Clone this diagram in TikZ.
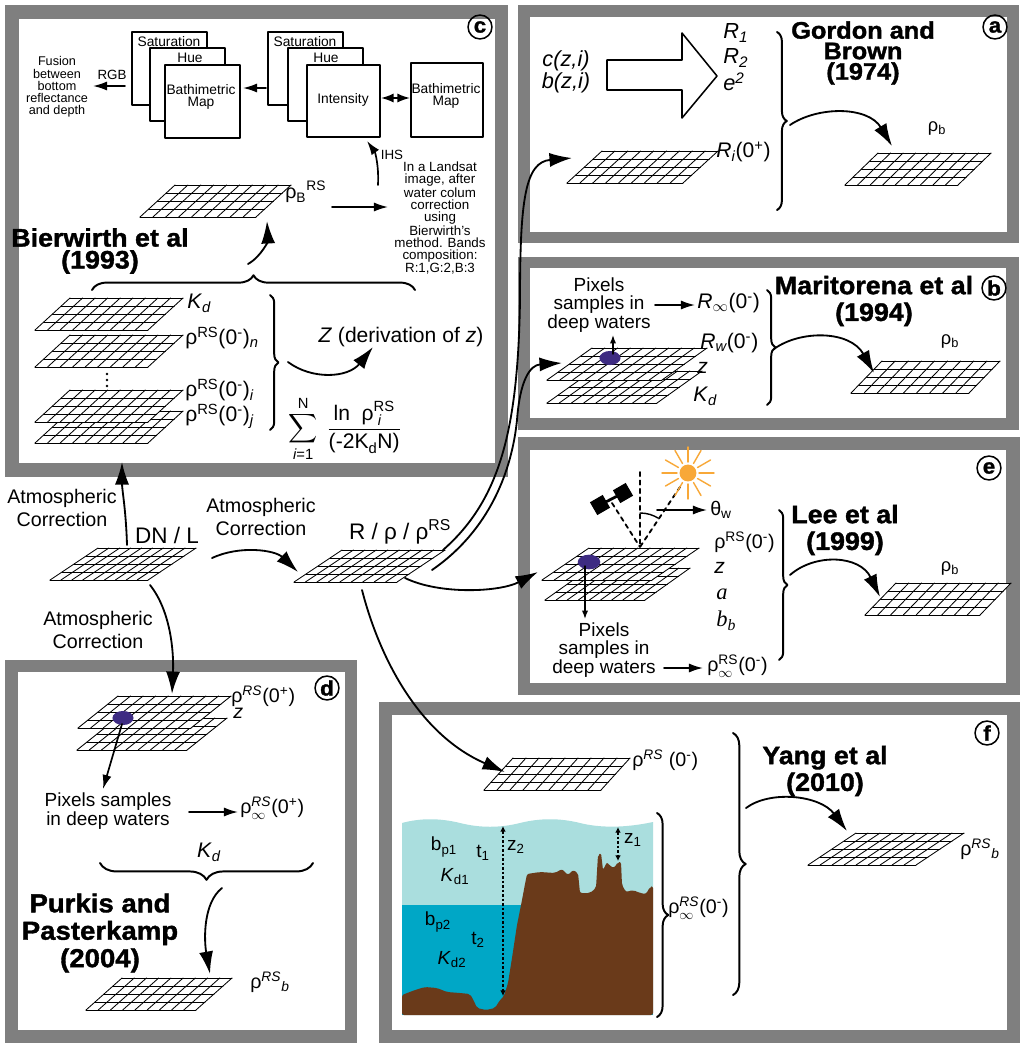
\documentclass[tikz,border=0pt]{standalone}
\usepackage{amsmath}
\usepackage{fontspec}
\setmainfont{Liberation Sans}
\newfontfamily\tmsfont{Liberation Serif}
\newfontfamily\heavyfont{Liberation Sans}[BoldFeatures={FakeBold=1.4,FakeStretch=1.06}]
\usetikzlibrary{arrows.meta,decorations.pathreplacing}
\definecolor{framegray}{HTML}{7F7F7F}
\definecolor{shallow}{HTML}{AADEDE}
\definecolor{deep}{HTML}{00A7C6}
\definecolor{seabed}{HTML}{6A3A1A}
\definecolor{pixpurple}{HTML}{3D2B82}
\definecolor{sunorange}{HTML}{F8A838}
\newcommand{\supx}[1]{\textsuperscript{#1}}
\newcommand{\subx}[1]{\textsubscript{#1}}
\newcommand{\supinf}[1]{$^{\text{#1}}_{\infty}$}
\tikzset{
  pics/pixgrid/.style 2 args={code={
    \fill[white] (0,0) -- (#1,0) -- ({#1+#2},-32) -- (#2,-32) -- cycle;
    \foreach \ii in {0,...,4} \draw[line width=0.6pt] ({#2*\ii/4},{-8*\ii}) -- ++(#1,0);
    \foreach \jj in {0,...,9} \draw[line width=0.6pt] ({#1*\jj/9},0) -- ++(#2,-32);
  }},
  lab/.style={font=\fontsize{15}{16}\selectfont, inner sep=0pt, anchor=west},
  txt/.style={font=\fontsize{13.5}{12.5}\selectfont, inner sep=0pt, align=center},
  atm/.style={font=\fontsize{14}{16.5}\selectfont, inner sep=0pt, align=center},
  boxtxt/.style={font=\fontsize{9.8}{8}\selectfont, inner sep=0pt, align=center},
  ttl/.style={font=\fontsize{18}{19}\selectfont\heavyfont\bfseries, inner sep=0pt, align=center},
  circ/.style={circle, draw, line width=1.1pt, minimum size=17pt, inner sep=0pt, font=\fontsize{15}{15}\selectfont\heavyfont\bfseries},
  mapbox/.style={draw, fill=white, line width=1.1pt},
  curv/.style={line width=1.3pt, -{Latex[length=16pt,width=10pt]}},
  arr/.style={line width=1.2pt, -{Latex[length=10pt,width=6.5pt]}},
  tiny/.style={line width=1pt, -{Latex[length=6pt,width=4.5pt]}},
  brc/.style={decorate, decoration={brace, amplitude=#1}, line width=1.4pt},
  dotarr/.style={line width=1.8pt, line cap=butt, dash pattern=on 1.8pt off 1.4pt, {Latex[length=4pt,width=4pt]}-{Latex[length=4pt,width=4pt]}},
}
\begin{document}
\begin{tikzpicture}[x=0.025cm, y=-0.025cm, line join=round, line cap=round]
\useasboundingbox (0,0) rectangle (1024,1048);
% frames of the six panels
\fill[framegray] (5,5) rectangle (508,477);      \fill[white] (19,19) rectangle (495,463);
\fill[framegray] (518,5) rectangle (1019,243);   \fill[white] (530,17) rectangle (1007,232);
\fill[framegray] (518,257) rectangle (1019,430); \fill[white] (530,268) rectangle (1006,418);
\fill[framegray] (518,437) rectangle (1020,695); \fill[white] (530,450) rectangle (1006,683);
\fill[framegray] (5,660) rectangle (357,1043);   \fill[white] (18,672) rectangle (345,1030);
\fill[framegray] (379,702) rectangle (1020,1043); \fill[white] (392,715) rectangle (1007,1030);

% panel c
\draw[mapbox] (132,32) rectangle (207,105);
\draw[mapbox] (150,48) rectangle (225,121);
\draw[mapbox] (165,65) rectangle (240,138);
\draw[mapbox] (268,32) rectangle (343,105);
\draw[mapbox] (288,48) rectangle (363,121);
\draw[mapbox] (307,65) rectangle (380,137);
\draw[mapbox] (411,63) rectangle (483,137);
\node[boxtxt] (satA) at (169,42) {Saturation};
\node[boxtxt] (hueA) at (190,58) {Hue};
\node[boxtxt] (batA) at (201,97) {Bathimetric\\Map};
\node[boxtxt] (satB) at (305,42) {Saturation};
\node[boxtxt] (hueB) at (326,58) {Hue};
\node[boxtxt] (intB) at (343,100) {Intensity};
\node[boxtxt] (batC) at (446,96) {Bathimetric\\Map};
\node[font=\fontsize{9}{8.7}\selectfont, inner sep=0pt, align=center] (fusion) at (57,87) {Fusion\\between\\bottom\\reflectance\\and depth};
\node[font=\fontsize{9.5}{9}\selectfont, inner sep=0pt] (rgb) at (112,75) {RGB};
\node[font=\fontsize{9.5}{9}\selectfont, inner sep=0pt] (ihs) at (392,155) {IHS};
\node[font=\fontsize{9.5}{8.6}\selectfont, inner sep=0pt, align=center] (landsat) at (440,218) {In a Landsat\\image, after\\water colum\\correction\\using\\Bierwirth's\\method. Bands\\composition:\\R:1,G:2,B:3};
\coordinate (rgbS) at (125,86);  \coordinate (rgbE) at (93,86);
\coordinate (midS) at (266,88);  \coordinate (midE) at (243,88);
\coordinate (dblL) at (381,98);  \coordinate (dblR) at (410,98);
\coordinate (ihsS) at (378,185); \coordinate (ihsE) at (367,141);
\coordinate (rbS) at (332,207);  \coordinate (rbE) at (388,207);
\draw[arr] (rgbS) -- (rgbE);
\draw[arr] (midS) -- (midE);
\draw[line width=1.2pt, {Latex[length=9pt,width=6.5pt]}-{Latex[length=9pt,width=6.5pt]}] (dblL) -- (dblR);
\draw[arr] (ihsS) .. controls (379,165) and (375,152) .. (ihsE);
\draw[arr] (rbS) -- (rbE);
\pic (gB) at (140,217) {pixgrid={116}{35}};
\node[lab, font=\fontsize{14}{16}\selectfont] (rhoB) at (285,192) {$\text{ρ}_{\text{B}}{}^{\text{RS}}$};
\node[ttl, font=\fontsize{18}{15.6}\selectfont\heavyfont\bfseries] (bier) at (100,251) {Bierwirth et al\\(1993)};
\draw[brc=10.5pt] (92,290) -- (415,290);
\coordinate (bcS) at (248,264); \coordinate (bcE) at (267,221);
\draw[curv] (bcS) .. controls (262,256) and (268,240) .. (bcE);
\pic (gj) at (35,443) {pixgrid={113}{35}};
\pic (gi) at (35,422) {pixgrid={113}{35}};
\pic (gn) at (35,367) {pixgrid={113}{35}};
\pic (gk) at (35,330) {pixgrid={113}{35}};
\foreach \yy in {374,380,386} \fill (107,\yy) circle (0.9pt);
\node[lab] (kdC) at (187,303) {\textit{K}\subx{\itshape d}};
\node[lab] (rhoN) at (185,338) {ρ\supx{RS}(0\supx{-})\subx{\itshape n}};
\node[lab] (rhoI) at (185,390) {ρ\supx{RS}(0\supx{-})\subx{\itshape i}};
\node[lab] (rhoJ) at (185,416) {ρ\supx{RS}(0\supx{-})\subx{\itshape j}};
\draw[brc=6pt] (270,295) -- (270,430);
\node[lab, anchor=center] (zder) at (401,337) {\textit{Z} (derivation of \textit{z})};
\coordinate (zS) at (288,362); \coordinate (zE) at (373,347);
\draw[curv] (zS) .. controls (312,380) and (348,378) .. (zE);
\node[lab, anchor=center] (sumC) at (345,429) {$\displaystyle\sum_{\text{\itshape i\upshape =1}}^{\text{N}}\ \frac{\text{ln\ \ ρ}^{\text{RS}}_{\;\text{\itshape i}}}{\text{(-2K}_{\text{d}}\text{N)}}$};
\node[circ] (circC) at (480,27) {c};

% panel a
\draw[line width=1.1pt] (607,60) -- (682,60) -- (682,33) -- (717,76) -- (682,118) -- (682,90) -- (607,90) -- cycle;
\node[font=\fontsize{15.5}{12.5}\selectfont\itshape, inner sep=0pt, align=center] (czi) at (566,72) {c(z,i)\\b(z,i)};
\node[lab, font=\fontsize{15.5}{16}\selectfont\itshape] (r1) at (723,33) {R\subx{1}};
\node[lab, font=\fontsize{15.5}{16}\selectfont\itshape] (r2) at (723,58) {R\subx{2}};
\node[lab, font=\fontsize{15.5}{16}\selectfont\itshape] (e2) at (723,82) {e\supx{2}};
\pic (gaL) at (567,183) {pixgrid={116}{35}};
\node[lab] (ri) at (716,152) {\textit{R}\subx{\itshape i}(0\supx{+})};
\draw[brc=7pt] (777,32) -- (777,210);
\node[ttl, font=\fontsize{17}{14.6}\selectfont\heavyfont\bfseries] (gord) at (863,53) {Gordon and\\Brown\\(1974)};
\pic (gaR) at (845,185) {pixgrid={113}{33}};
\node[font=\fontsize{13}{14}\selectfont, inner sep=0pt] (rhoA) at (937,128) {ρ\subx{b}};
\coordinate (aS) at (790,125); \coordinate (aE) at (892,146);
\draw[curv] (aS) .. controls (818,106) and (868,106) .. (aE);
\node[circ] (circA) at (995,27) {a};

% panel b
\pic (gbL2) at (547,403) {pixgrid={110}{45}};
\pic (gbL) at (547,380) {pixgrid={115}{45}};
\fill[pixpurple] (610,358) ellipse [x radius=7.5pt, y radius=5pt];
\coordinate (ebS) at (613,354); \coordinate (ebE) at (613,335);
\draw[tiny] (ebS) -- (ebE);
\node[txt] (pixB) at (599,305) {Pixels\\samples in\\deep waters};
\coordinate (pbS) at (655,305); \coordinate (pbE) at (695,305);
\draw[arr] (pbS) -- (pbE);
\node[lab] (rinf) at (697,303) {\textit{R}$_{\infty}$(0\supx{-})};
\node[lab] (rw) at (700,343) {\textit{R}\subx{\itshape w}(0\supx{-})};
\node[lab] (zb) at (697,368) {\textit{z}};
\node[lab] (kdB) at (693,396) {\textit{K}\subx{\itshape d}};
\draw[brc=6pt] (767,290) -- (767,405);
\node[ttl] (mari) at (874,301) {Maritorena et al\\(1994)};
\pic (gbR) at (851,393) {pixgrid={118}{31}};
\node[font=\fontsize{13}{14}\selectfont, inner sep=0pt] (rhoBb) at (950,341) {ρ\subx{b}};
\coordinate (bS) at (774,349); \coordinate (bE) at (874,373);
\draw[curv] (bS) .. controls (800,330) and (850,330) .. (bE);
\node[circ, fill=white] (circB) at (994,288) {b};

% panel e
\pic (geL2) at (545,600) {pixgrid={100}{45}};
\pic (geL) at (542,580) {pixgrid={110}{47}};
\fill[pixpurple] (589,562) ellipse [x radius=8pt, y radius=5.2pt];
\coordinate (eeS) at (585,566); \coordinate (eeE) at (585,619);
\draw[tiny] (eeS) -- (eeE);
\coordinate (nadir) at (640,547);
\draw[dashed, line width=1.3pt] (640,472) -- (nadir);
\draw[dashed, line width=1.3pt] (612,503) -- (nadir);
\draw[dashed, line width=1.3pt] (680,487) -- (nadir);
\draw[line width=1pt] (640,513) .. controls (647,513) and (653,515) .. (658,518);
\node[fill=black, minimum size=10.5pt, inner sep=0pt, rotate=30] (satL) at (600,505) {};
\node[fill=black, minimum size=10.5pt, inner sep=0pt, rotate=30] (satR) at (623,493) {};
\draw[line width=2pt] (satL) -- (satR);
\coordinate (sun) at (688,473);
\fill[sunorange] (sun) circle (6pt);
\foreach \aa in {0,30,...,330} \draw[sunorange, line width=1pt] (sun) ++(\aa:11) -- ++(\aa:15);
\coordinate (thS) at (657,510); \coordinate (thE) at (707,510);
\draw[arr] (thS) -- (thE);
\node[lab, font=\fontsize{14}{16}\selectfont] (thw) at (710,510) {θ\subx{w}};
\node[lab, font=\fontsize{14}{16}\selectfont] (rhoE) at (714,542) {ρ\supx{RS}(0\supx{-})};
\node[lab] (ze) at (714,568) {\textit{z}};
\node[lab, font=\fontsize{16}{16}\selectfont\tmsfont\itshape] (ae) at (716,594) {a};
\node[lab, font=\fontsize{16}{16}\selectfont\tmsfont\itshape] (bbe) at (716,621) {b\subx{b}};
\node[lab, font=\fontsize{14}{16}\selectfont] (rinfE) at (707,666) {ρ\supinf{RS}(0\supx{-})};
\node[txt] (pixE) at (604,650) {Pixels\\samples in\\deep waters};
\coordinate (peS) at (664,668); \coordinate (peE) at (703,668);
\draw[arr] (peS) -- (peE);
\draw[brc=6pt] (779,510) -- (779,660);
\node[ttl] (lee) at (845,530) {Lee et al\\(1999)};
\pic (geR) at (865,615) {pixgrid={115}{31}};
\node[font=\fontsize{13}{14}\selectfont, inner sep=0pt] (rhoEb) at (950,568) {ρ\subx{b}};
\coordinate (eS) at (790,575); \coordinate (eE) at (880,597);
\draw[curv] (eS) .. controls (815,553) and (860,555) .. (eE);
\node[circ] (circE) at (989,468) {e};

% panel d
\pic (gdL2) at (77,750) {pixgrid={110}{40}};
\pic (gdL) at (78,728) {pixgrid={113}{40}};
\fill[pixpurple] (123,718) ellipse [x radius=7.5pt, y radius=5pt];
\coordinate (edS) at (122,724); \coordinate (edE) at (103,789);
\draw[arr] (edS) -- (edE);
\node[lab, font=\fontsize{14}{16}\selectfont] (rhoD) at (231,696) {ρ\supx{\itshape RS}(0\supx{+})};
\node[lab, font=\fontsize{14}{16}\selectfont] (zd) at (233,713) {\textit{z}};
\node[txt] (pixD) at (108,811) {Pixels samples\\in deep waters};
\coordinate (pdS) at (189,812); \coordinate (pdE) at (238,812);
\draw[arr] (pdS) -- (pdE);
\node[lab, font=\fontsize{14}{16}\selectfont] (rinfD) at (240,808) {ρ\supinf{\itshape RS}(0\supx{+})};
\node[lab, anchor=center] (kdD) at (209,852) {\textit{K}\subx{\itshape d}};
\draw[brc=12pt] (313,863) -- (100,863);
\node[ttl, font=\fontsize{18.5}{19.5}\selectfont\heavyfont\bfseries] (purk) at (100,933) {Purkis and\\Pasterkamp\\(2004)};
\pic (gdB) at (86,1010) {pixgrid={110}{36}};
\node[lab, font=\fontsize{14}{16}\selectfont] (rhoDb) at (250,982) {ρ$^{\text{\itshape RS}}{}_{\text{\itshape b}}$};
\coordinate (dS) at (222,888); \coordinate (dE) at (210,974);
\draw[curv] (dS) .. controls (203,903) and (204,940) .. (dE);
\node[circ] (circD) at (327,688) {d};

% panel f
\pic (gfT) at (484,790) {pixgrid={117}{29}};
\node[lab, font=\fontsize{14}{16}\selectfont] (rhoF) at (632,760) {ρ\supx{\itshape RS} (0\supx{-})};
\fill[shallow] (402,1015) -- (402,823) .. controls (420,818) and (440,818) .. (460,823)
  .. controls (480,828) and (500,828) .. (520,823) .. controls (540,818) and (560,818) .. (580,823)
  .. controls (600,828) and (625,828) .. (653,822) -- (653,1015) -- cycle;
\fill[deep] (402,905) rectangle (653,1015);
\fill[seabed, rounded corners=1.5pt] (402,1015) -- (402,995) -- (415,990) -- (425,987) -- (437,988)
  -- (447,992) -- (460,993) -- (470,994) -- (474,1001) -- (477,1008) -- (486,1010) -- (495,1008)
  -- (500,1000) -- (504,996) -- (508,983) -- (512,958) -- (517,925) -- (522,900) -- (525,884)
  -- (527,874) -- (540,872) -- (555,873) -- (562,869) -- (568,875) -- (573,870) -- (578,873)
  -- (580,893) -- (590,893) -- (596,888) -- (598,855) -- (601,853) -- (603,870) -- (607,862)
  -- (610,866) -- (614,868) -- (618,862) -- (621,862) -- (622,885) -- (626,892) -- (633,890)
  -- (640,893) -- (646,894) -- (650,887) -- (653,886) -- (653,1015) -- cycle;
\coordinate (z2T) at (503,826); \coordinate (z2B) at (503,996);
\coordinate (z1T) at (618,827); \coordinate (z1B) at (618,861);
\draw[dotarr] (z2T) -- (z2B);
\draw[dotarr] (z1T) -- (z1B);
\node[txt] (bp1) at (444,847) {b\subx{p1}};
\node[txt] (t1) at (483,853) {t\subx{1}};
\node[txt] (z2) at (516,847) {z\subx{2}};
\node[txt] (kd1) at (455,877) {\textit{K}\subx{d1}};
\node[txt] (z1) at (633,840) {z\subx{1}};
\node[txt] (bp2) at (438,922) {b\subx{p2}};
\node[txt] (t2) at (478,940) {t\subx{2}};
\node[txt] (kd2) at (452,960) {\textit{K}\subx{d2}};
\draw[brc=8pt] (657,813) -- (657,1017);
\node[lab, font=\fontsize{14}{16}\selectfont] (rinfF) at (668,908) {ρ\supinf{\itshape RS}(0\supx{-})};
\draw[brc=9pt] (733,733) -- (733,995);
\node[ttl] (yang) at (825,771) {Yang et al\\(2010)};
\pic (gfR) at (808,865) {pixgrid={108}{48}};
\node[lab, font=\fontsize{14}{16}\selectfont] (rhoFb) at (960,849) {ρ$^{\text{\itshape RS}}{}_{\text{\itshape b}}$};
\coordinate (fS) at (746,808); \coordinate (fE) at (847,831);
\draw[curv] (fS) .. controls (770,790) and (820,795) .. (fE);
\node[circ] (circF) at (987,733) {f};

% central chain
\pic (gdn) at (50,580) {pixgrid={98}{48}};
\pic (gr) at (294,582) {pixgrid={103}{48}};
\node[font=\fontsize{16}{18}\selectfont, inner sep=0pt] (dnl) at (167,535) {DN / L};
\node[font=\fontsize{16}{18}\selectfont, inner sep=0pt] (rrho) at (400,532) {R / ρ / ρ\supx{RS}};
\node[atm] (atmC) at (62,508) {Atmospheric\\Correction};
\node[atm] (atmR) at (261,517) {Atmospheric\\Correction};
\node[atm] (atmD) at (98,630) {Atmospheric\\Correction};
\coordinate (dnUp) at (127,545); \coordinate (cIn) at (122,462);
\coordinate (dnRt) at (212,558); \coordinate (rIn) at (298,572);
\coordinate (dnDn) at (150,585); \coordinate (dIn) at (172,694);
\coordinate (rA) at (443,550); \coordinate (aIn) at (572,158);
\coordinate (rB) at (432,570); \coordinate (bIn) at (562,363);
\coordinate (rE) at (405,578); \coordinate (eIn) at (538,572);
\coordinate (rF) at (362,590); \coordinate (fIn) at (505,772);
\draw[curv] (dnUp) .. controls (126,510) and (122,490) .. (cIn);
\draw[curv] (dnRt) .. controls (240,545) and (275,550) .. (rIn);
\draw[curv] (dnDn) .. controls (170,610) and (174,650) .. (dIn);
\draw[curv] (rA) .. controls (500,500) and (518,430) .. (520,300) .. controls (520,200) and (525,162) .. (aIn);
\draw[curv] (rB) .. controls (490,530) and (512,470) .. (517,420) .. controls (520,380) and (530,365) .. (bIn);
\draw[curv] (rE) .. controls (440,595) and (500,592) .. (eIn);
\draw[curv] (rF) .. controls (380,660) and (420,735) .. (fIn);
\end{tikzpicture}
\end{document}
